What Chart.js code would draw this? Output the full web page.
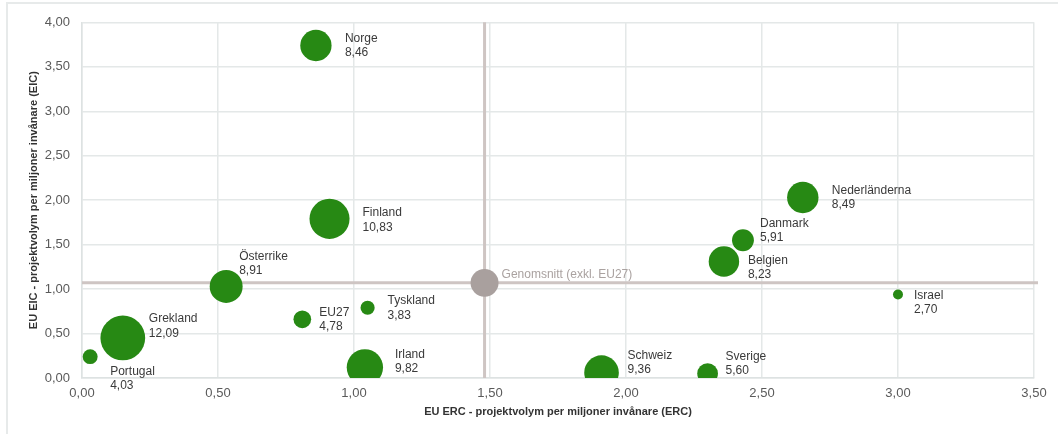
<!DOCTYPE html>
<html>
<head>
<meta charset="utf-8">
<script src="https://cdn.jsdelivr.net/npm/chart.js@4/dist/chart.umd.min.js"></script>
<style>
    body { margin: 0; background: #fff; }
    #wrap { position: relative; width: 1058px; height: 434px; }
    #frame {
        position: absolute; left: 6px; top: 2px; right: 0; bottom: 0;
        border-top: 2px solid #e7eaea; border-left: 2px solid #e7eaea;
    }
    #chart { position: absolute; left: 0; top: 0; }
</style>
</head>
<body>
<div id="wrap">
    <div id="frame"></div>
    <canvas id="chart" width="1058" height="434"></canvas>
</div>
<script>
// data
const countries = ['Norge', 'Finland', 'Österrike', 'Grekland', 'Portugal', 'EU27', 'Tyskland',
    'Irland', 'Schweiz', 'Sverige', 'Belgien', 'Danmark', 'Nederländerna', 'Israel'];
const ercValues = [0.86, 0.91, 0.53, 0.15, 0.03, 0.81, 1.05, 1.04, 1.91, 2.30, 2.36, 2.43, 2.65, 3.00];
const eicValues = [3.74, 1.79, 1.03, 0.45, 0.24, 0.66, 0.79, 0.12, 0.06, 0.05, 1.31, 1.55, 2.03, 0.94];
const sizeValues = [8.46, 10.83, 8.91, 12.09, 4.03, 4.78, 3.83, 9.82, 9.36, 5.60, 8.23, 5.91, 8.49, 2.70];
const avgLabel = 'Genomsnitt (exkl. EU27)';
const avgErc = [1.48];
const avgEic = [1.07];
const avgSize = [7.56];
const xTicks = [0, 0.5, 1, 1.5, 2, 2.5, 3, 3.5];
const yTicks = [0, 0.5, 1, 1.5, 2, 2.5, 3, 3.5, 4];

// label placement next to each bubble [dx, dy]
const labelOffsets = [[29, -7], [33, -6], [13, -30], [26, -19], [20, 15], [17, -7], [20, -7],
    [30, -13], [26, -17], [18, -17], [24, -1], [17, -17], [29, -7], [16, 1]];
const avgOffset = [17, -8];

const GREEN = '#278914';
const GREY = '#a9a09e';
const RADIUS_SCALE = 1.85;
const fmt = v => v.toFixed(2).replace('.', ',');

const avgLines = {
    id: 'avgLines',
    beforeDatasetsDraw(chart) {
        const { ctx, chartArea, scales } = chart;
        const x = scales.x.getPixelForValue(avgErc[0]);
        const y = scales.y.getPixelForValue(avgEic[0]);
        ctx.save();
        ctx.strokeStyle = '#cec5c3';
        ctx.lineWidth = 3;
        ctx.beginPath();
        ctx.moveTo(x, chartArea.top);
        ctx.lineTo(x, chartArea.bottom);
        ctx.moveTo(chartArea.left, y);
        ctx.lineTo(chartArea.right + 4, y);
        ctx.stroke();
        ctx.restore();
    }
};

const bubbleLabels = {
    id: 'bubbleLabels',
    afterDatasetsDraw(chart) {
        const { ctx } = chart;
        ctx.save();
        ctx.font = '12px "Liberation Sans", Arial, sans-serif';
        ctx.textBaseline = 'middle';
        ctx.textAlign = 'left';
        const meta = chart.getDatasetMeta(0);
        meta.data.forEach((pt, i) => {
            const [dx, dy] = labelOffsets[i];
            ctx.fillStyle = '#3a3a3a';
            ctx.fillText(countries[i], pt.x + dx, pt.y + dy);
            ctx.fillText(fmt(sizeValues[i]), pt.x + dx, pt.y + dy + 14.5);
        });
        const avgPt = chart.getDatasetMeta(1).data[0];
        ctx.fillStyle = '#aaa2a0';
        ctx.fillText(avgLabel, avgPt.x + avgOffset[0], avgPt.y + avgOffset[1]);
        ctx.restore();
    }
};

const tickFont = { family: '"Liberation Sans", Arial, sans-serif', size: 13 };
const titleFont = { family: '"Liberation Sans", Arial, sans-serif', size: 11, weight: 'bold' };

new Chart(document.getElementById('chart').getContext('2d'), {
    type: 'bubble',
    data: {
        datasets: [{
            label: 'Länder',
            data: countries.map((c, i) => ({ x: ercValues[i], y: eicValues[i], r: sizeValues[i] * RADIUS_SCALE })),
            backgroundColor: GREEN,
            borderWidth: 0,
            hoverBorderWidth: 0,
            clip: 0
        }, {
            label: avgLabel,
            data: avgErc.map((x, i) => ({ x: x, y: avgEic[i], r: avgSize[i] * RADIUS_SCALE })),
            backgroundColor: GREY,
            borderWidth: 0,
            clip: 0
        }]
    },
    options: {
        responsive: false,
        animation: false,
        layout: { padding: { left: 0, top: 19, right: 24, bottom: 0 } },
        plugins: {
            legend: { display: false },
            tooltip: { enabled: false }
        },
        scales: {
            x: {
                type: 'linear',
                min: 0,
                max: 3.5,
                afterFit(scale) { scale.height = 56; },
                afterBuildTicks(scale) { scale.ticks = xTicks.map(v => ({ value: v })); },
                ticks: {
                    font: tickFont,
                    color: '#5a5a5a',
                    padding: 8,
                    callback: v => fmt(v)
                },
                grid: { color: '#e4e8e8', lineWidth: 1.5, drawTicks: false },
                border: { color: '#dde2e2', width: 1.5 },
                title: {
                    display: true,
                    text: 'EU ERC - projektvolym per miljoner invånare (ERC)',
                    font: titleFont,
                    color: '#333',
                    padding: { top: 0, bottom: 15 }
                }
            },
            y: {
                type: 'linear',
                min: 0,
                max: 4,
                afterFit(scale) { scale.width = 82; },
                afterBuildTicks(scale) { scale.ticks = yTicks.map(v => ({ value: v })); },
                ticks: {
                    font: tickFont,
                    color: '#5a5a5a',
                    padding: 12,
                    callback: v => fmt(v)
                },
                grid: { color: '#e4e8e8', lineWidth: 1.5, drawTicks: false },
                border: { color: '#dde2e2', width: 1.5 },
                title: {
                    display: true,
                    text: 'EU EIC - projektvolym per miljoner invånare (EIC)',
                    font: titleFont,
                    color: '#333',
                    padding: { top: 27, bottom: 0 }
                }
            }
        }
    },
    plugins: [avgLines, bubbleLabels]
});
</script>
</body>
</html>
